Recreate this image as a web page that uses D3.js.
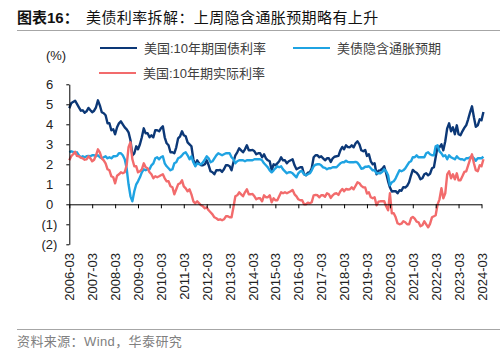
<!DOCTYPE html>
<html>
<head>
<meta charset="utf-8">
<script src="https://cdn.jsdelivr.net/npm/d3@7"></script>
<style>
body { margin: 0; background: #fff; }
svg { display: block; font-family: "Liberation Sans", Arial, "Noto Sans CJK SC", sans-serif; }
</style>
</head>
<body>
<svg id="chart" width="500" height="361"></svg>
<script>
// monthly points, 2006-03 .. 2024-04
const firstMonth = "2006-03";
const lastMonth = "2024-04";

// 美国:10年期国债利率
const us10y = [
  4.80, 5.05, 5.12, 5.18, 5.02, 4.85, 4.68, 4.70, 4.58, 4.65,             // 2006 Mar-Dec
  4.82, 4.70, 4.60, 4.68, 4.85, 5.20, 4.95, 4.60, 4.55, 4.45, 4.05, 4.05, // 2007
  3.70, 3.75, 3.50, 3.85, 4.05, 4.15, 4.00, 3.85, 3.75, 3.60, 3.20, 2.45, // 2008
  2.55, 2.90, 2.75, 3.00, 3.35, 3.80, 3.55, 3.55, 3.35, 3.45, 3.35, 3.70, // 2009
  3.70, 3.65, 3.80, 3.90, 3.35, 3.05, 2.95, 2.60, 2.60, 2.55, 2.85, 3.30, // 2010
  3.40, 3.65, 3.45, 3.40, 3.10, 3.00, 2.90, 2.25, 1.95, 2.20, 2.05, 1.95, // 2011
  1.95, 2.00, 2.20, 1.95, 1.65, 1.60, 1.50, 1.70, 1.70, 1.72, 1.62, 1.75, // 2012
  1.95, 1.95, 1.90, 1.70, 2.10, 2.45, 2.60, 2.80, 2.70, 2.60, 2.75, 2.95, // 2013
  2.70, 2.70, 2.72, 2.65, 2.50, 2.55, 2.55, 2.35, 2.50, 2.30, 2.20, 2.15, // 2014
  1.70, 2.00, 1.95, 2.05, 2.15, 2.35, 2.20, 2.20, 2.05, 2.15, 2.20, 2.25, // 2015
  1.95, 1.75, 1.80, 1.85, 1.85, 1.50, 1.45, 1.58, 1.60, 1.80, 2.35, 2.45, // 2016
  2.45, 2.35, 2.40, 2.30, 2.20, 2.30, 2.30, 2.12, 2.30, 2.38, 2.40, 2.42, // 2017
  2.70, 2.87, 2.75, 2.95, 2.86, 2.85, 2.95, 2.85, 3.05, 3.15, 3.00, 2.70, // 2018
  2.65, 2.72, 2.42, 2.50, 2.15, 2.00, 2.05, 1.50, 1.68, 1.70, 1.78, 1.90, // 2019
  1.55, 1.15, 0.85, 0.64, 0.65, 0.66, 0.55, 0.70, 0.68, 0.86, 0.84, 0.92, // 2020
  1.10, 1.45, 1.72, 1.63, 1.58, 1.45, 1.25, 1.30, 1.50, 1.55, 1.45, 1.52, // 2021
  1.80, 1.85, 2.35, 2.90, 2.85, 3.00, 2.70, 3.15, 3.80, 4.05, 3.65, 3.85, // 2022
  3.50, 3.95, 3.50, 3.45, 3.65, 3.82, 3.95, 4.25, 4.60, 4.90, 4.35, 3.88, // 2023
  3.95, 4.25, 4.20, 4.62                                                  // 2024 Jan-Apr
];

// 美债隐含通胀预期
const breakeven = [
  2.60, 2.65, 2.62, 2.55, 2.60, 2.45, 2.35, 2.40, 2.35, 2.40,
  2.42, 2.40, 2.45, 2.45, 2.40, 2.45, 2.35, 2.30, 2.35, 2.40, 2.30, 2.35,
  2.30, 2.40, 2.40, 2.42, 2.55, 2.55, 2.45, 2.25, 1.80, 1.00, 0.40, 0.15,
  0.65, 1.00, 1.15, 1.35, 1.60, 1.75, 1.70, 1.75, 1.75, 1.95, 2.05, 2.30,
  2.35, 2.25, 2.35, 2.40, 2.05, 1.90, 1.80, 1.70, 1.75, 2.05, 2.10, 2.30,
  2.35, 2.45, 2.55, 2.60, 2.45, 2.25, 2.40, 2.10, 1.90, 2.05, 2.00, 2.00,
  2.10, 2.25, 2.40, 2.30, 2.10, 2.15, 2.30, 2.45, 2.55, 2.50, 2.45, 2.50,
  2.55, 2.55, 2.55, 2.35, 2.25, 2.05, 2.15, 2.20, 2.20, 2.20, 2.15, 2.20,
  2.20, 2.20, 2.20, 2.25, 2.25, 2.25, 2.25, 2.20, 2.05, 1.95, 1.85, 1.70,
  1.60, 1.70, 1.80, 1.90, 1.85, 1.90, 1.75, 1.65, 1.55, 1.60, 1.60, 1.55,
  1.45, 1.35, 1.55, 1.65, 1.65, 1.50, 1.45, 1.50, 1.55, 1.70, 1.90, 1.98,
  2.00, 2.00, 1.95, 1.85, 1.82, 1.75, 1.80, 1.80, 1.85, 1.85, 1.85, 1.95,
  2.05, 2.10, 2.10, 2.18, 2.12, 2.10, 2.10, 2.10, 2.12, 2.08, 1.95, 1.78,
  1.80, 1.88, 1.88, 1.90, 1.80, 1.70, 1.70, 1.55, 1.55, 1.55, 1.62, 1.75,
  1.65, 1.45, 0.95, 1.10, 1.15, 1.30, 1.50, 1.70, 1.65, 1.70, 1.80, 1.95,
  2.10, 2.15, 2.35, 2.35, 2.45, 2.35, 2.35, 2.35, 2.35, 2.55, 2.60, 2.50,
  2.45, 2.45, 2.90, 2.95, 2.65, 2.55, 2.40, 2.45, 2.25, 2.45, 2.35, 2.30,
  2.25, 2.40, 2.30, 2.25, 2.25, 2.20, 2.30, 2.30, 2.35, 2.40, 2.30, 2.18,
  2.30, 2.30, 2.30, 2.38
];

// 美国:10年期实际利率
const realRate = [
  2.20, 2.40, 2.50, 2.63, 2.42, 2.40, 2.33, 2.30, 2.23, 2.25,
  2.40, 2.30, 2.15, 2.23, 2.45, 2.75, 2.60, 2.30, 2.20, 2.05, 1.75, 1.70,
  1.40, 1.35, 1.05, 1.43, 1.50, 1.60, 1.55, 1.60, 1.95, 2.85, 3.10, 2.25,
  1.90, 1.90, 1.60, 1.65, 1.75, 2.05, 1.85, 1.80, 1.60, 1.50, 1.30, 1.40,
  1.35, 1.40, 1.45, 1.50, 1.30, 1.15, 1.15, 0.90, 0.85, 0.50, 0.75, 1.00,
  1.05, 1.20, 0.90, 0.80, 0.65, 0.75, 0.50, 0.15, 0.05, 0.15, 0.05, -0.05,
  -0.10, -0.20, -0.15, -0.30, -0.40, -0.50, -0.65, -0.70, -0.78, -0.75, -0.80, -0.75,
  -0.60, -0.60, -0.65, -0.65, -0.15, 0.40, 0.45, 0.60, 0.50, 0.40, 0.60, 0.75,
  0.50, 0.50, 0.52, 0.40, 0.25, 0.30, 0.30, 0.15, 0.45, 0.35, 0.35, 0.45,
  0.10, 0.30, 0.20, 0.20, 0.40, 0.60, 0.55, 0.60, 0.55, 0.60, 0.65, 0.72,
  0.50, 0.40, 0.25, 0.20, 0.20, 0.00, 0.00, 0.08, 0.05, 0.10, 0.45, 0.47,
  0.45, 0.35, 0.45, 0.45, 0.38, 0.55, 0.50, 0.32, 0.45, 0.53, 0.55, 0.47,
  0.65, 0.77, 0.65, 0.77, 0.74, 0.75, 0.85, 0.75, 0.93, 1.10, 1.05, 0.92,
  0.85, 0.84, 0.54, 0.60, 0.35, 0.30, 0.35, -0.05, 0.13, 0.15, 0.16, 0.15,
  -0.10, -0.30, 0.55, -0.45, -0.45, -0.65, -0.95, -1.00, -0.97, -0.85, -0.90, -1.00,
  -1.00, -0.70, -0.63, -0.72, -0.87, -0.90, -1.10, -1.05, -0.85, -1.00, -1.15, -0.98,
  -0.65, -0.60, -0.55, 0.00, 0.25, 0.80, 0.30, 0.55, 1.50, 1.65, 1.30, 1.50,
  1.25, 1.55, 1.20, 1.20, 1.40, 1.62, 1.65, 1.95, 2.25, 2.50, 2.05, 1.70,
  1.65, 1.95, 1.90, 2.25
];

const xTickLabels = ["2006-03", "2007-03", "2008-03", "2009-03", "2010-03", "2011-03",
  "2012-03", "2013-03", "2014-03", "2015-03", "2016-03", "2017-03", "2018-03",
  "2019-03", "2020-03", "2021-03", "2022-03", "2023-03", "2024-03"];
const yTicks = [-2, -1, 0, 1, 2, 3, 4, 5, 6];

const seriesNames = ["美国:10年期国债利率", "美债隐含通胀预期", "美国:10年期实际利率"];
const seriesColors = ["#0c3877", "#1fa3e2", "#f26b6c"];

const titleLead = "图表16：";
const titleText = "美债利率拆解：上周隐含通胀预期略有上升";
const sourceText = "资料来源：Wind，华泰研究";

// ---------------------------------------------------------------
const svg = d3.select("#chart");
const parseMonth = d3.utcParse("%Y-%m");

const months = d3.utcMonth.range(parseMonth(firstMonth), d3.utcMonth.offset(parseMonth(lastMonth), 1));

const plot = {left: 69.3, right: 481.5, top: 84.3, bottom: 244.3};

const x = d3.scaleUtc()
  .domain([parseMonth(xTickLabels[0]), parseMonth(xTickLabels[xTickLabels.length - 1])])
  .range([plot.left, plot.right]);

const y = d3.scaleLinear()
  .domain([-2, 6])
  .range([plot.bottom, plot.top]);

// title + rules
svg.append("text")
  .attr("x", 17).attr("y", 23)
  .attr("font-size", 15).attr("fill", "#111")
  .call(t => t.append("tspan").attr("font-weight", "bold").text(titleLead))
  .call(t => t.append("tspan").attr("x", 86).attr("letter-spacing", 0.4).text(titleText));

svg.append("line")
  .attr("x1", 17).attr("x2", 500).attr("y1", 30.5).attr("y2", 30.5)
  .attr("stroke", "#a6a6a6").attr("stroke-width", 1);

svg.append("line")
  .attr("x1", 17).attr("x2", 500).attr("y1", 329.5).attr("y2", 329.5)
  .attr("stroke", "#a6a6a6").attr("stroke-width", 1);

svg.append("text")
  .attr("x", 17).attr("y", 346)
  .attr("font-size", 13).attr("fill", "#808080")
  .attr("letter-spacing", 0.4)
  .text(sourceText);

// unit label
svg.append("text")
  .attr("x", 56).attr("y", 60)
  .attr("text-anchor", "middle")
  .attr("font-size", 13).attr("fill", "#222")
  .text("(%)");

// legend
const legendItems = [
  {name: seriesNames[0], color: seriesColors[0], lx: 100, ly: 48},
  {name: seriesNames[1], color: seriesColors[1], lx: 293, ly: 48},
  {name: seriesNames[2], color: seriesColors[2], lx: 99, ly: 73}
];
const legend = svg.append("g");
legendItems.forEach(d => {
  legend.append("line")
    .attr("x1", d.lx).attr("x2", d.lx + 37)
    .attr("y1", d.ly).attr("y2", d.ly)
    .attr("stroke", d.color).attr("stroke-width", 2);
  legend.append("text")
    .attr("x", d.lx + 44).attr("y", d.ly + 4.5)
    .attr("font-size", 13).attr("fill", "#404040")
    .text(d.name);
});

// lines
const line = d3.line()
  .x((d, i) => x(months[i]))
  .y(d => y(d));

[us10y, breakeven, realRate].forEach((vals, k) => {
  svg.append("path")
    .datum(vals)
    .attr("fill", "none")
    .attr("stroke", seriesColors[k])
    .attr("stroke-width", 2.4)
    .attr("stroke-linejoin", "round")
    .attr("d", line);
});

// y axis
svg.append("g")
  .attr("transform", `translate(${plot.left},0)`)
  .call(d3.axisLeft(y).tickValues(yTicks).tickSize(3).tickSizeOuter(0)
    .tickFormat(d => d < 0 ? `(${-d})` : `${d}`))
  .call(g => g.select(".domain").attr("stroke", "#000"))
  .call(g => g.selectAll(".tick line").attr("stroke", "#000"))
  .call(g => g.selectAll(".tick text")
    .attr("x", d => d < 0 ? -12 : -16)
    .attr("font-size", 13)
    .attr("font-family", "'Liberation Sans', Arial, sans-serif")
    .attr("fill", "#222"));

// x axis on the zero line
svg.append("g")
  .attr("transform", `translate(0,${y(0)})`)
  .call(d3.axisBottom(x).tickValues(xTickLabels.map(parseMonth)).tickSize(4).tickSizeOuter(0)
    .tickFormat(d3.utcFormat("%Y-%m")))
  .call(g => g.select(".domain").attr("stroke", "#000"))
  .call(g => g.selectAll(".tick line").attr("stroke", "#000"))
  .call(g => g.selectAll(".tick text")
    .attr("transform", "rotate(-90)")
    .attr("x", -(253 - y(0)))
    .attr("y", 0)
    .attr("dy", "0.35em")
    .attr("text-anchor", "end")
    .attr("font-size", 13)
    .attr("font-family", "'Liberation Sans', Arial, sans-serif")
    .attr("fill", "#222"));
</script>
</body>
</html>
